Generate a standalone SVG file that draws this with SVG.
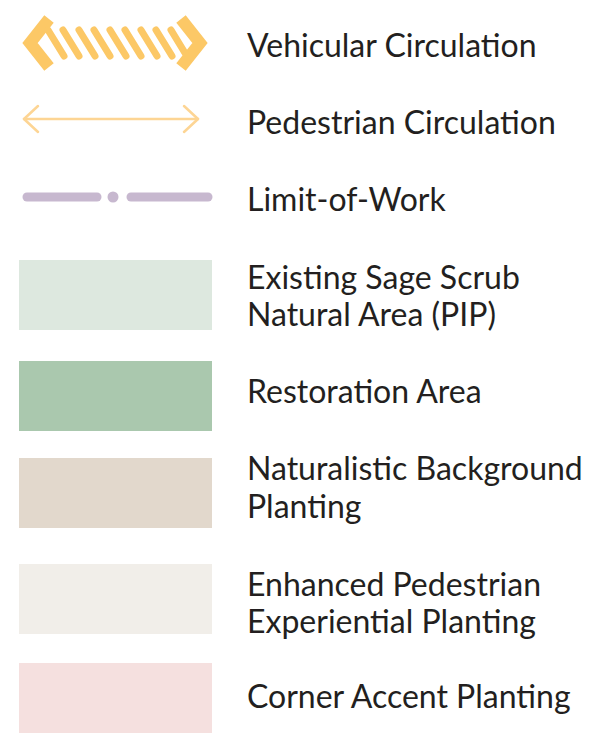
<svg xmlns="http://www.w3.org/2000/svg" width="589" height="740" viewBox="0 0 589 740">
<style>
.lbl{font-family:Lato,"Liberation Sans",sans-serif;font-size:32px;fill:#231f20}
.veh{stroke:#fcc866;fill:none}
.ped{stroke:#fdd594;fill:none;stroke-width:2.5;stroke-linecap:round;stroke-linejoin:round}
.low{stroke:#c7b8cf;stroke-width:9;fill:none;stroke-linecap:round}
</style>
<rect width="589" height="740" fill="#ffffff"/>
<g id="vehicular">
<polyline class="veh" points="49,19 30,43 49,67" stroke-width="12" stroke-linejoin="miter"/>
<polyline class="veh" points="181,19 200,43 181,67" stroke-width="12" stroke-linejoin="miter"/>
<g class="veh" stroke-width="7" stroke-linecap="round">
<line x1="48" y1="30" x2="64" y2="56"/>
<line x1="63" y1="30" x2="79" y2="56"/>
<line x1="79" y1="30" x2="95" y2="56"/>
<line x1="94" y1="30" x2="110" y2="56"/>
<line x1="110" y1="30" x2="126" y2="56"/>
<line x1="125" y1="30" x2="141" y2="56"/>
<line x1="141" y1="30" x2="157" y2="56"/>
<line x1="156" y1="30" x2="172" y2="56"/>
<line x1="171" y1="30" x2="185" y2="53"/>
</g>
<text class="lbl" x="247" y="57">Vehicular Circulation</text>
</g>
<g id="pedestrian">
<line class="ped" x1="24" y1="119" x2="198" y2="119"/>
<polyline class="ped" points="38,106 24,119 38,132"/>
<polyline class="ped" points="184,106 198,119 184,132"/>
<text class="lbl" x="247" y="134">Pedestrian Circulation</text>
</g>
<g id="limit-of-work">
<line class="low" x1="27" y1="197" x2="97" y2="197"/>
<circle cx="113" cy="197" r="5.5" fill="#c7b8cf"/>
<line class="low" x1="131" y1="197" x2="208" y2="197"/>
<text class="lbl" x="247" y="211">Limit-of-Work</text>
</g>
<g id="sage-scrub">
<rect x="19" y="260" width="193" height="70" fill="#dde8df"/>
<text class="lbl" x="247" y="289">Existing Sage Scrub</text>
<text class="lbl" x="247" y="326">Natural Area (PIP)</text>
</g>
<g id="restoration">
<rect x="19" y="361" width="193" height="70" fill="#aac8ae"/>
<text class="lbl" x="247" y="403">Restoration Area</text>
</g>
<g id="background-planting">
<rect x="19" y="458" width="193" height="70" fill="#e2d8cc"/>
<text class="lbl" x="247" y="480">Naturalistic Background</text>
<text class="lbl" x="247" y="518">Planting</text>
</g>
<g id="pedestrian-planting">
<rect x="19" y="564" width="193" height="70" fill="#f1eee9"/>
<text class="lbl" x="247" y="596">Enhanced Pedestrian</text>
<text class="lbl" x="247" y="633">Experiential Planting</text>
</g>
<g id="corner-accent">
<rect x="19" y="663" width="193" height="70" fill="#f5e0df"/>
<text class="lbl" x="247" y="708">Corner Accent Planting</text>
</g>
</svg>
